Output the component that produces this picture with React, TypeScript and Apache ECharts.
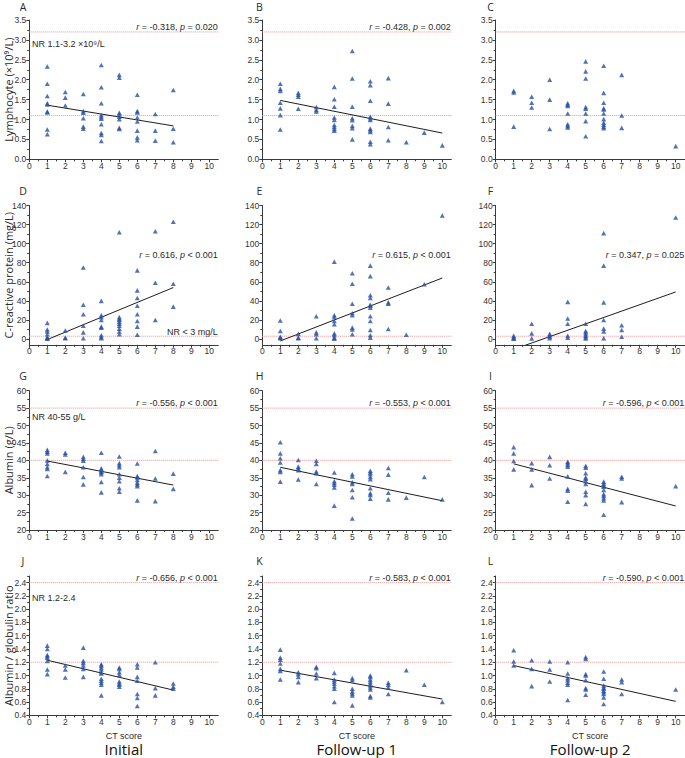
import React, { useEffect, useRef } from "react";
import * as echarts from "echarts";

// ---------- categories / ticks ----------
const ctTicks = [0, 1, 2, 3, 4, 5, 6, 7, 8, 9, 10];
const ctMinor = [0.5, 1.5, 2.5, 3.5, 4.5, 5.5, 6.5, 7.5, 8.5, 9.5];
const colTitles = ["Initial", "Follow-up 1", "Follow-up 2"];
const rowTitles = ["Lymphocyte (×10⁹/L)", "C-reactive protein (mg/L)", "Albumin (g/L)", "Albumin / globulin ratio"];
const panelLetters = [["A", "B", "C"], ["D", "E", "F"], ["G", "H", "I"], ["J", "K", "L"]];
const xTitle = "CT score";

const lymTicks = [0, 0.5, 1, 1.5, 2, 2.5, 3, 3.5];
const lymMinor = [0.25, 0.75, 1.25, 1.75, 2.25, 2.75, 3.25];
const crpTicks = [0, 20, 40, 60, 80, 100, 120, 140];
const crpMinor = [10, 30, 50, 70, 90, 110, 130];
const albTicks = [20, 25, 30, 35, 40, 45, 50, 55, 60];
const albMinor = [22.5, 27.5, 32.5, 37.5, 42.5, 47.5, 52.5, 57.5];
const agrTicks = [0.4, 0.6, 0.8, 1.0, 1.2, 1.4, 1.6, 1.8, 2.0, 2.2, 2.4];
const agrMinor = [0.5, 0.7, 0.9, 1.1, 1.3, 1.5, 1.7, 1.9, 2.1, 2.3, 2.5];

// reference ranges (normal range lines)
const lymRef = [1.1, 3.2];
const crpRef = [3];
const albRef = [40, 55];
const agrRef = [1.2, 2.4];
const nrLabels = ["NR 1.1-3.2 ×10⁹/L", "NR < 3 mg/L", "NR 40-55 g/L", "NR 1.2-2.4"];

// ---------- data: [CT score, values[]] ----------
type Pts = [number, number[]][];
const lymInit: Pts = [
  [1, [2.33, 1.9, 1.59, 1.41, 1.38, 1.2, 1.18, 0.75, 0.63]],
  [2, [1.69, 1.55, 1.35]],
  [3, [1.64, 1.21, 1.17, 1.03, 0.82, 0.77]],
  [4, [2.37, 1.81, 1.41, 1.11, 1.06, 1.02, 0.88, 0.66, 0.61, 0.46]],
  [5, [2.12, 2.05, 1.17, 1.13, 1.07, 1.01, 0.79, 0.76]],
  [6, [1.62, 1.21, 1.18, 1.05, 0.95, 0.72, 0.55, 0.48]],
  [7, [1.14, 0.72, 0.47]],
  [8, [1.74, 0.77, 0.43]],
];
const lymFU1: Pts = [
  [1, [1.9, 1.77, 1.72, 1.42, 1.28, 1.11, 0.75]],
  [2, [1.67, 1.62, 1.57, 1.27]],
  [3, [1.31, 1.24, 1.2]],
  [4, [1.82, 1.51, 1.32, 1.05, 0.99, 0.86, 0.81, 0.76, 0.72]],
  [5, [2.72, 2.03, 1.32, 1.03, 0.98, 0.84, 0.78, 0.5]],
  [6, [1.96, 1.86, 1.47, 1.07, 1.03, 0.99, 0.77, 0.73, 0.69, 0.44, 0.38]],
  [7, [2.04, 1.4, 0.81, 0.48]],
  [8, [0.43]],
  [9, [0.67]],
  [10, [0.35]],
];
const lymFU2: Pts = [
  [1, [1.72, 1.68, 0.82]],
  [2, [1.57, 1.42, 1.3]],
  [3, [2.0, 1.5, 0.76]],
  [4, [1.41, 1.37, 1.34, 1.15, 0.88, 0.84, 0.8]],
  [5, [2.46, 2.21, 2.03, 1.31, 1.27, 1.15, 0.96, 0.58]],
  [6, [2.35, 1.67, 1.42, 1.28, 1.25, 1.15, 1.01, 0.92, 0.87, 0.82, 0.78]],
  [7, [2.12, 1.1, 0.79]],
  [10, [0.33]],
];
const crpInit: Pts = [
  [1, [17, 10, 8, 5, 2, 1, 0.5]],
  [2, [9, 1.5, 0.8]],
  [3, [75, 36, 26, 14, 7, 0.8]],
  [4, [40, 25, 23, 20, 13, 12, 4, 2, 1]],
  [5, [112, 23, 21, 20, 18, 16, 14, 11, 8, 5]],
  [6, [72, 51, 43, 35, 26, 19, 13, 4.5]],
  [7, [113, 59, 20]],
  [8, [123, 58, 34]],
];
const crpFU1: Pts = [
  [1, [19.5, 8.5, 2.5, 1.5, 0.8]],
  [2, [5.5, 1.5, 0.8]],
  [3, [24, 7, 5, 0.8]],
  [4, [81, 25, 23, 19, 15.5, 6, 4, 1.5, 0.5]],
  [5, [69, 58, 37, 27, 25, 12, 10, 5]],
  [6, [77, 66, 46, 43, 36, 35, 33, 24, 19, 9.5, 4, 1.5]],
  [7, [54, 38.5, 37, 10.5]],
  [8, [4.5]],
  [9, [57.5]],
  [10, [129.5]],
];
const crpFU2: Pts = [
  [1, [3.5, 2, 1, 0.5]],
  [2, [16, 6, 0.7]],
  [3, [5.5, 4, 2.5, 0.8]],
  [4, [39, 21.5, 16, 3.5, 1.5]],
  [5, [16, 8.5, 7, 5, 3.5, 2, 0.7]],
  [6, [111, 77, 38.5, 20, 11, 8, 1]],
  [7, [14.5, 9.5, 2.5]],
  [10, [127.5]],
];
const albInit: Pts = [
  [1, [43, 42.5, 42, 40, 39, 38, 37.5, 35.5]],
  [2, [42.2, 41.7, 36.7]],
  [3, [41, 40.4, 39.9, 38, 35.2, 33.1]],
  [4, [42.2, 37.7, 37.2, 36.8, 36.5, 36, 33.8, 30.8]],
  [5, [41.1, 39.2, 38.6, 38, 36, 35, 34, 32, 31]],
  [6, [39.1, 35.5, 35.1, 34.4, 33.6, 33.1, 32.6, 28.5]],
  [7, [42.7, 34.8, 28.3]],
  [8, [36.2, 31.8]],
];
const albFU1: Pts = [
  [1, [45.2, 42, 40.6, 39.4, 37.2, 36.7, 33.9]],
  [2, [40.1, 38.2, 37.7, 37.2, 34.5]],
  [3, [39.9, 39, 36.8, 36.3, 33.2]],
  [4, [36.5, 34, 33.5, 33, 32.2, 27]],
  [5, [36, 35.4, 33.7, 33.2, 31.5, 29.4, 23.3]],
  [6, [37, 36.5, 36, 35.2, 34.6, 32, 30.6, 30.1, 29]],
  [7, [37.8, 35.9, 30.7, 28.8]],
  [8, [29.3]],
  [9, [35.2]],
  [10, [28.8]],
];
const albFU2: Pts = [
  [1, [43.8, 42, 39.8, 37.4]],
  [2, [39.2, 37.4, 32.9]],
  [3, [41, 38.6, 34.8]],
  [4, [39.6, 39.2, 38.7, 38.2, 35.4, 31.8, 31.3, 28.1]],
  [5, [38.4, 37.9, 36.3, 35.1, 34.7, 34, 33.2, 31, 30, 27.5]],
  [6, [33.9, 33.4, 32.9, 32.4, 31.5, 30.3, 29.8, 29.1, 28.5, 24.4]],
  [7, [35.3, 34.8, 28]],
  [10, [32.6]],
];
const agrInit: Pts = [
  [1, [1.45, 1.4, 1.31, 1.29, 1.27, 1.22, 1.09, 1.02]],
  [2, [1.15, 1.09, 0.97]],
  [3, [1.42, 1.22, 1.19, 1.15, 1.1, 0.98]],
  [4, [1.17, 1.15, 1.12, 1.09, 1.05, 1.03, 0.95, 0.92, 0.89, 0.86, 0.7]],
  [5, [1.12, 1.1, 1.05, 1.01, 0.91, 0.88, 0.86, 0.83]],
  [6, [1.17, 1.12, 0.98, 0.92, 0.72, 0.66, 0.54]],
  [7, [1.2, 0.81, 0.7]],
  [8, [0.88, 0.83, 0.8]],
];
const agrFU1: Pts = [
  [1, [1.39, 1.27, 1.24, 1.18, 1.1, 1.07, 0.94]],
  [2, [1.05, 1.02, 0.98, 0.9]],
  [3, [1.13, 1.11, 1.03, 0.96]],
  [4, [1.04, 0.94, 0.91, 0.88, 0.84, 0.8, 0.6]],
  [5, [0.96, 0.93, 0.8, 0.76, 0.73, 0.7, 0.55]],
  [6, [1.0, 0.98, 0.94, 0.91, 0.88, 0.85, 0.82, 0.79, 0.69, 0.67]],
  [7, [0.89, 0.86, 0.82, 0.72]],
  [8, [1.08]],
  [9, [0.86]],
  [10, [0.6]],
];
const agrFU2: Pts = [
  [1, [1.38, 1.21, 1.15]],
  [2, [1.23, 1.1, 0.84]],
  [3, [1.21, 1.09, 0.91]],
  [4, [1.2, 1.03, 0.96, 0.93, 0.89, 0.86, 0.63]],
  [5, [1.28, 1.25, 1.02, 1.0, 0.93, 0.81, 0.79, 0.71]],
  [6, [1.06, 0.95, 0.85, 0.82, 0.8, 0.77, 0.75, 0.72, 0.67, 0.57]],
  [7, [0.94, 0.9, 0.72]],
  [10, [0.79]],
];

// regression lines (end points)
const lymFits = [[[1, 1.36], [8, 0.84]], [[1, 1.48], [10, 0.66]], null];
const crpFits = [[[1, -0.5], [8, 54]], [[1, -2], [10, 64]], [[1, -10.8], [10, 49.4]]];
const albFits = [[[1, 39.8], [8, 32.9]], [[1, 38], [10, 28.4]], [[1, 39], [10, 26.9]]];
const agrFits = [[[1, 1.23], [8, 0.78]], [[1, 1.08], [10, 0.645]], [[1, 1.15], [10, 0.61]]];

// correlation statistics: [r, p-part]
const lymStats = [["-0.318", "= 0.020"], ["-0.428", "= 0.002"], null];
const crpStats = [["0.616", "< 0.001"], ["0.615", "< 0.001"], ["0.347", "= 0.025"]];
const albStats = [["-0.556", "< 0.001"], ["-0.553", "< 0.001"], ["-0.596", "< 0.001"]];
const agrStats = [["-0.656", "< 0.001"], ["-0.583", "< 0.001"], ["-0.590", "< 0.001"]];

// ---------- layout ----------
const X_MIN = 0;
const X_MAX = 10.5;
const GRID_LEFT = [29.3, 262.3, 495.7];
const GRID_TOP = [20, 205.5, 390.7, 576];
const GRID_W = 189;
const GRID_H = 139.3;
const FONT = "'Liberation Sans', Arial, sans-serif";
const TFONT = "'Open Sans', 'Liberation Sans', sans-serif";
const AXIS_COLOR = "#3a3a3a";
const TEXT_COLOR = "#2a2a2a";
const POINT_COLOR = "#2850a2";
const REF_COLOR = "#f08c8c";

const rows = [
  { data: [lymInit, lymFU1, lymFU2], fits: lymFits, stats: lymStats, min: 0, max: 3.5, major: lymTicks, minor: lymMinor, refs: lymRef, dec: 1, statY: 27, nrY: 44, nrRight: false },
  { data: [crpInit, crpFU1, crpFU2], fits: crpFits, stats: crpStats, min: -6, max: 140, major: crpTicks, minor: crpMinor, refs: crpRef, dec: 0, statY: 255, nrY: 331.7, nrRight: true },
  { data: [albInit, albFU1, albFU2], fits: albFits, stats: albStats, min: 20, max: 60, major: albTicks, minor: albMinor, refs: albRef, dec: 0, statY: 403.3, nrY: 417, nrRight: false },
  { data: [agrInit, agrFU1, agrFU2], fits: agrFits, stats: agrStats, min: 0.4, max: 2.5, major: agrTicks, minor: agrMinor, refs: agrRef, dec: 1, statY: 577.7, nrY: 597.7, nrRight: false },
];
const letterX = [23, 259.5, 490.5];
const letterY = [6.5, 190.5, 375.5, 560.5];

function toPairs(d: Pts) {
  const out: number[][] = [];
  d.forEach(([x, ys]) => ys.forEach((y) => out.push([x, y])));
  return out;
}

function buildOption() {
  const grid: any[] = [];
  const xAxis: any[] = [];
  const yAxis: any[] = [];
  const series: any[] = [];
  const graphic: any[] = [];
  const labelStyle = { fontSize: 8.5, fontFamily: FONT, color: "#333" };

  rows.forEach((row, r) => {
    for (let c = 0; c < 3; c++) {
      const k = r * 3 + c;
      const left = GRID_LEFT[c];
      const top = GRID_TOP[r];
      grid.push({ left, top, width: GRID_W, height: GRID_H, containLabel: false });
      xAxis.push({
        type: "value", gridIndex: k, min: X_MIN, max: X_MAX, position: "bottom",
        axisLine: { show: true, onZero: false, lineStyle: { color: AXIS_COLOR, width: 1 } },
        axisTick: { show: true, length: 3, customValues: ctTicks, lineStyle: { color: AXIS_COLOR } },
        axisLabel: { ...labelStyle, margin: 2, customValues: ctTicks },
        splitLine: { show: false },
      });
      xAxis.push({
        type: "value", gridIndex: k, min: X_MIN, max: X_MAX, position: "bottom",
        axisLine: { show: false, onZero: false },
        axisTick: { show: true, length: 2, customValues: ctMinor, lineStyle: { color: AXIS_COLOR } },
        axisLabel: { show: false },
        splitLine: { show: false },
      });
      const dec = row.dec;
      yAxis.push({
        type: "value", gridIndex: k, min: row.min, max: row.max, position: "left",
        axisLine: { show: true, onZero: false, lineStyle: { color: AXIS_COLOR, width: 1 } },
        axisTick: { show: true, length: 3, customValues: row.major, lineStyle: { color: AXIS_COLOR } },
        axisLabel: { ...labelStyle, margin: 3, customValues: row.major, formatter: (v: number) => v.toFixed(dec) },
        splitLine: { show: false },
      });
      yAxis.push({
        type: "value", gridIndex: k, min: row.min, max: row.max, position: "left",
        axisLine: { show: false, onZero: false },
        axisTick: { show: true, length: 2, customValues: row.minor, lineStyle: { color: AXIS_COLOR } },
        axisLabel: { show: false },
        splitLine: { show: false },
      });
      // normal-range reference lines (drawn beneath points)
      row.refs.forEach((v) => {
        series.push({
          type: "line", xAxisIndex: 2 * k, yAxisIndex: 2 * k, z: 1,
          data: [[X_MIN, v], [X_MAX, v]], symbol: "none", silent: true,
          lineStyle: { color: REF_COLOR, type: "dotted", width: 1 },
        });
      });
      series.push({
        type: "scatter", xAxisIndex: 2 * k, yAxisIndex: 2 * k, z: 3,
        data: toPairs(row.data[c]),
        symbol: "triangle", symbolSize: [5, 4.6],
        itemStyle: { color: POINT_COLOR },
        silent: true,
      });
      const fit = row.fits[c];
      if (fit) {
        series.push({
          type: "line", xAxisIndex: 2 * k, yAxisIndex: 2 * k, data: fit, z: 2,
          symbol: "none", silent: true, clip: true,
          lineStyle: { color: "#1e1e1e", width: 1 },
        });
      }
      const st = row.stats[c];
      if (st) {
        graphic.push({
          type: "text", x: left + GRID_W - 0.5, y: row.statY,
          style: {
            text: `{i|r} = ${st[0]}, {i|p} ${st[1]}`,
            rich: { i: { fontStyle: "italic", fontSize: 9, fontFamily: FONT, fill: TEXT_COLOR, lineHeight: 10 } },
            fontSize: 9, lineHeight: 10, fontFamily: FONT, fill: TEXT_COLOR, align: "right", verticalAlign: "middle",
          },
        });
      }
      graphic.push({
        type: "text", x: letterX[c], y: letterY[r],
        style: { text: panelLetters[r][c], fontSize: 10.5, lineHeight: 10, fontFamily: TFONT, fill: TEXT_COLOR, align: "center", verticalAlign: "middle" },
      });
    }
    // y titles
    graphic.push({
      type: "text", x: 8, y: GRID_TOP[r] + GRID_H / 2, rotation: Math.PI / 2,
      style: { text: rowTitles[r], fontSize: 11, lineHeight: 11, fontFamily: TFONT, fill: TEXT_COLOR, align: "center", verticalAlign: "middle" },
    });
    // normal range label (column 1 only)
    graphic.push({
      type: "text",
      x: row.nrRight ? GRID_LEFT[0] + GRID_W - 0.5 : GRID_LEFT[0] + 2.7,
      y: row.nrY,
      style: { text: nrLabels[r], fontSize: 9, lineHeight: 10, fontFamily: FONT, fill: TEXT_COLOR, align: row.nrRight ? "right" : "left", verticalAlign: "middle" },
    });
  });

  for (let c = 0; c < 3; c++) {
    const cx = GRID_LEFT[c] + GRID_W / 2;
    graphic.push({
      type: "text", x: cx, y: 735.5,
      style: { text: xTitle, fontSize: 9, lineHeight: 9, fontFamily: FONT, fill: TEXT_COLOR, align: "center", verticalAlign: "middle" },
    });
    graphic.push({
      type: "text", x: cx, y: 749,
      style: { text: colTitles[c], fontSize: 15, lineHeight: 15, fontFamily: TFONT, fill: "#111", align: "center", verticalAlign: "middle" },
    });
  }

  return {
    animation: false,
    backgroundColor: "#ffffff",
    grid, xAxis, yAxis, series, graphic,
  };
}

export default function App() {
  const ref = useRef<HTMLDivElement>(null);
  useEffect(() => {
    if (!ref.current) return;
    const chart = echarts.init(ref.current, undefined, { renderer: "svg" });
    chart.setOption(buildOption() as any);
    return () => chart.dispose();
  }, []);
  return (
    <div
      ref={ref}
      style={{ position: "absolute", left: 0, top: 0, width: 685, height: 758, background: "#fff" }}
    />
  );
}
